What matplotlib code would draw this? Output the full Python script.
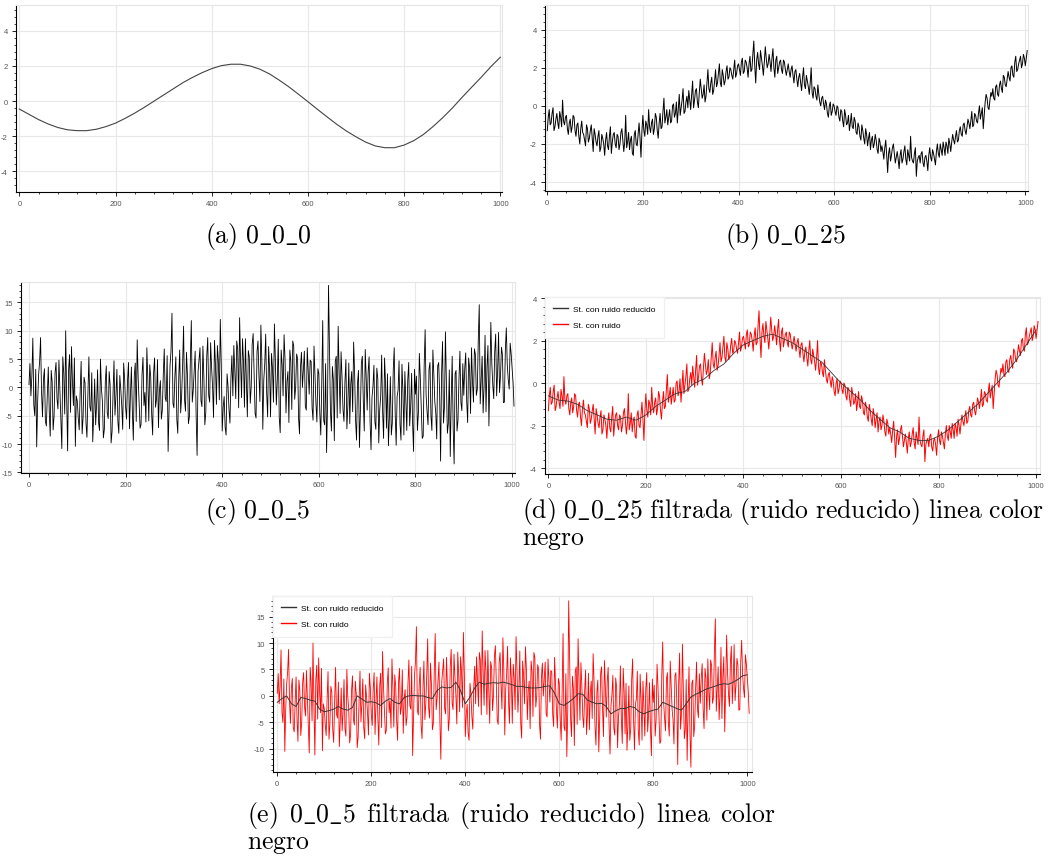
import numpy as np
import matplotlib
matplotlib.use("Agg")
import matplotlib.pyplot as plt
from matplotlib.ticker import MultipleLocator

# Tamaño de la figura en píxeles
W, H = 1050, 862

# (a) serie sin ruido, muestreada cada 20
senal_limpia = [-0.45, -0.75, -1.05, -1.3, -1.5, -1.63, -1.68, -1.68, -1.6, -1.45,
                -1.25, -0.98, -0.68, -0.35, 0.0, 0.35, 0.7, 1.05, 1.35, 1.62,
                1.85, 2.02, 2.1, 2.1, 2.0, 1.82, 1.55, 1.2, 0.82, 0.4,
                -0.03, -0.47, -0.9, -1.32, -1.7, -2.03, -2.33, -2.55, -2.65, -2.65,
                -2.5, -2.25, -1.9, -1.45, -0.95, -0.4, 0.2, 0.78, 1.35, 1.95, 2.5]

# (b) serie con ruido 0_0_25: muestras en x = 0, 4, 8, ...
ruido_025 = [
    -1.3, -0.2, -0.9, -0.1, -1.1, -0.4, -1.2, -0.6, 0.3, -1.0, -0.5, -1.5, -0.7, -1.1, -0.6, -1.6, -0.9, -2.0, -0.8, -1.5, -2.1, -1.2, -1.7, -1.0, -2.4,
    -1.5, -2.1, -1.3, -2.2, -1.7, -2.6, -1.4, -2.3, -1.1, -1.9, -1.4, -2.2, -1.6, -2.0, -1.2, -2.4, -0.5, -1.9, -2.3, -1.6, -2.6, -1.3, -2.1, -0.9, -2.7,
    -0.5, -1.6, -1.0, -0.2, -1.4, -0.7, -1.2, -0.6, -1.7, -0.4, -1.1, 0.4, -0.6, -1.0, -0.2, -0.8, 0.1, -0.4, -0.9, 0.6, -0.1, 0.9, -0.3, 0.5, 0.8,
    -0.2, 1.3, 0.3, 0.9, -0.1, 1.4, 0.4, 1.1, 0.5, 1.9, 0.7, 1.5, 0.8, 1.9, 1.2, 2.2, 1.0, 1.6, 1.3, 2.1, 1.5, 1.9, 1.4, 2.4, 1.7,
    2.2, 1.6, 2.5, 1.8, 2.3, 1.5, 2.6, 1.9, 3.4, 1.2, 2.8, 1.9, 2.5, 1.6, 3.1, 2.0, 2.7, 1.8, 3.0, 1.5, 2.6, 2.0, 2.4, 1.7, 2.3,
    1.6, 2.2, 1.5, 2.1, 1.2, 1.9, 1.0, 1.7, 0.8, 2.0, 0.9, 1.3, 0.6, 2.0, 0.4, 0.9, 0.3, 0.6, 0.0, 0.5, -0.2, 0.1, -0.6, 0.2, -0.3,
    0.0, -0.5, -0.1, -0.8, -0.3, -1.1, -0.5, -0.9, -1.3, -0.4, -1.2, -0.8, -1.5, -1.1, -1.8, -1.3, -2.0, -1.5, -1.7, -2.3, -1.6, -2.0, -1.8, -2.5, -1.9,
    -2.1, -2.8, -1.8, -3.5, -2.2, -2.6, -2.0, -3.0, -2.4, -3.3, -2.3, -2.8, -2.1, -3.1, -2.6, -1.6, -2.9, -2.5, -3.7, -2.7, -3.0, -2.4, -3.2, -2.6, -3.4,
    -2.2, -2.9, -2.5, -3.1, -2.0, -2.7, -2.3, -1.9, -2.6, -2.1, -1.7, -2.4, -1.5, -2.0, -1.3, -1.8, -1.1, -1.6, -0.9, -1.5, -0.7, -1.2, -0.3, -1.0, -0.5,
    -0.9, 0.0, -0.4, -1.2, 0.2, 0.4, -0.2, 0.7, 0.9, 0.3, 1.1, 0.5, 1.3, 0.7, 1.5, 1.0, 1.8, 1.3, 2.1, 1.5, 2.6, 1.9, 2.4, 2.0, 2.7,
    2.1, 2.9]

# (b) serie con ruido 0_0_25: muestras en x = 2, 6, 10, ...
ruido_025_med = [
    -0.6, -1.0, -0.4, -1.3, -0.7, -0.9, -0.3, -1.1, -0.8, -0.6, -1.2, -0.9, -1.4, -0.5, -1.3, -1.0, -1.6, -1.2, -1.4, -1.8, -1.0, -1.9, -1.3, -1.7, -1.2,
    -1.9, -1.6, -2.4, -1.5, -2.0, -1.8, -2.1, -1.6, -2.5, -1.5, -2.0, -1.5, -2.3, -1.4, -1.8, -1.9, -2.2, -1.4, -1.8, -2.5, -1.5, -2.0, -1.5, -1.7, -1.3,
    -1.3, -0.8, -1.5, -1.1, -0.9, -1.5, -0.4, -1.3, -0.9, -1.2, -0.3, -0.9, -0.2, -0.6, -0.9, 0.0, -0.6, 0.2, -0.2, -0.5, 0.3, -0.4, 0.2, -0.1, 0.3,
    0.6, -0.1, 0.8, 0.2, 0.7, 0.9, 0.6, 0.2, 1.2, 0.9, 1.2, 0.6, 1.3, 1.0, 1.7, 1.2, 1.9, 1.1, 1.8, 1.4, 2.0, 1.6, 1.9, 1.5, 2.1,
    1.9, 2.3, 1.7, 2.4, 2.0, 2.2, 1.8, 2.7, 2.1, 2.4, 2.2, 2.9, 2.1, 2.3, 2.5, 2.2, 2.3, 2.5, 2.0, 2.4, 1.7, 2.3, 1.9, 2.4, 1.9,
    1.9, 1.8, 1.9, 1.6, 1.8, 1.4, 1.5, 1.2, 1.5, 1.1, 1.6, 1.0, 1.2, 0.7, 1.0, 0.5, 1.1, 0.2, 0.4, 0.1, 0.3, -0.4, 0.0, -0.5, 0.1,
    -0.3, 0.0, -0.6, -0.2, -0.8, -0.2, -1.0, -0.5, -0.9, -1.1, -0.6, -1.4, -0.9, -1.6, -1.0, -1.7, -1.2, -2.1, -1.4, -1.8, -2.2, -1.5, -2.3, -1.7, -2.4,
    -2.4, -2.2, -2.6, -2.5, -2.9, -2.2, -2.5, -2.7, -2.8, -2.6, -3.0, -2.4, -2.8, -2.3, -2.9, -2.7, -3.0, -2.2, -2.9, -2.6, -2.5, -3.0, -2.7, -2.9, -2.6,
    -2.7, -2.3, -2.8, -2.4, -2.5, -2.0, -2.6, -2.2, -1.9, -2.5, -2.0, -1.9, -1.8, -1.6, -1.9, -1.3, -1.5, -1.0, -1.3, -1.1, -0.9, -0.8, -1.1, -0.4, -0.8,
    -0.4, -0.7, -0.1, -0.5, 0.6, -0.1, 0.3, 0.5, 0.4, 1.0, 0.6, 1.1, 0.9, 1.6, 1.1, 1.4, 1.5, 2.0, 1.6, 2.3, 1.8, 2.2, 2.6, 2.2, 2.5,
    2.5]

# (c) serie con ruido 0_0_5: muestras en x = 0, 4, 8, ...
ruido_05 = [
    0.5, -1.5, 8.7, -5.0, -10.5, 2.3, 8.8, -5.2, 3.3, -6.8, 3.6, -8.6, 1.0, -5.0, 4.4, -3.8, -0.5, -10.8, 2.5, 10.0, -11.2, 5.8, 7.2, -3.2, -10.4,
    -2.4, -7.5, 4.6, -5.3, 0.8, -8.8, 5.4, -4.2, -9.6, 1.5, -3.0, -6.2, 5.0, -2.5, -7.4, 3.8, -5.5, 0.4, -7.8, 4.7, -1.5, -6.0, 2.1, -3.2, 4.3,
    -3.5, 1.2, -7.3, 3.6, -9.3, 4.3, 8.4, -2.7, -6.5, 5.3, -0.9, 7.0, -5.9, 1.8, -8.4, 5.2, -2.1, -7.1, 1.2, -4.0, 6.8, -2.5, -11.3, 3.9, 13.1,
    -3.6, 5.4, -8.1, 6.6, -1.5, 10.8, -4.2, 2.2, -5.2, 11.8, -0.5, 6.4, -12.0, 4.8, -2.3, 7.3, -6.6, 5.6, -1.4, 7.9, 0.2, 8.3, -3.0, 4.6, 12.0,
    -7.7, -1.6, -8.4, 0.3, -6.3, 5.6, 7.4, -2.0, 6.8, 12.3, -1.8, 4.5, 8.6, -5.2, 5.4, 0.1, 9.5, -4.6, 6.3, 2.1, 11.0, -7.4, 4.2, -1.0, 7.2,
    -5.2, 3.4, 11.2, -3.1, 8.5, -8.0, 4.0, 9.3, -4.5, 2.8, 6.6, -3.9, 7.3, 0.0, 5.1, -8.2, 6.2, 3.3, -3.4, 7.0, -1.2, 4.6, -5.8, 2.4, -6.1,
    2.4, -8.4, 11.8, -6.6, -11.5, 18.0, -4.2, 3.7, -9.4, 5.5, 10.8, -4.6, 1.8, -6.0, 4.9, -3.2, -6.4, 2.8, 8.0, -5.8, 0.7, -10.6, 4.3, -2.4, 6.7,
    -4.0, 5.4, -11.0, 0.2, -6.1, 3.4, -9.8, -1.5, -4.3, 5.2, -7.2, -10.3, 1.9, -6.3, 7.0, -10.2, -0.5, -6.5, 4.1, -8.4, -2.1, 1.3, -6.8, 2.5, -11.3,
    -1.2, -7.6, 6.0, -3.4, -8.6, 10.2, -4.3, 3.2, -5.0, 6.6, -2.5, -9.1, 4.4, -13.0, 8.1, -3.4, 1.1, -6.4, -12.2, 5.5, -13.5, 3.0, -5.8, 6.4, -4.1,
    -1.4, 6.1, -6.2, 3.4, 7.0, -2.6, 5.8, -0.3, 14.6, 1.2, -4.5, 9.2, 3.6, -6.8, 11.5, 0.4, 6.3, -1.5, 9.7, 2.1, 5.8, -2.6, 10.5, 1.4, 7.8,
    3.5, -3.3]

# (c) serie con ruido 0_0_5: muestras en x = 2, 6, 10, ...
ruido_05_med = [
    4.2, 2.0, -3.1, 3.2, -2.4, 4.5, -0.8, 1.5, -6.0, -1.2, -4.4, 3.0, -7.5, 2.6, -2.0, 4.8, -6.2, 5.4, -4.7, -1.8, 3.1, -4.4, 0.9, 5.2, -1.5,
    -5.4, -0.6, -8.2, 1.8, -6.3, -1.2, -3.4, 2.6, -4.8, -6.6, 3.1, -7.6, -0.2, -8.9, 1.0, -4.5, 2.8, -9.8, -1.1, -4.9, 3.2, -8.1, -0.3, -7.4, 1.5,
    -5.6, 4.4, -1.4, -4.2, 2.0, -6.0, 1.7, -7.2, 2.3, -3.2, -6.1, 1.4, 4.0, -4.8, 2.6, -3.5, 4.9, -0.6, -5.6, 2.2, -1.8, 5.6, -3.3, 6.5, -2.8,
    2.0, -5.6, 1.6, -4.5, 4.0, -2.2, 6.2, -6.4, 4.7, -2.6, 3.1, -5.0, 2.8, 7.0, -3.4, 1.9, -4.4, 8.8, -2.6, 3.5, -5.3, 4.0, 7.4, -2.2, 4.1,
    -3.5, -7.0, 2.4, -3.9, 1.6, -1.5, 3.1, 8.2, -3.6, 4.5, 8.6, -3.5, 1.0, 6.5, -2.8, 7.6, 2.5, -5.4, 8.2, -2.5, 4.8, 1.3, 9.4, -5.2, 3.2,
    6.0, -2.6, 4.8, 1.2, -5.3, 6.6, -1.5, 5.0, 1.0, -6.2, 4.6, 8.2, -2.1, 5.9, -5.4, 3.6, 0.0, 6.4, -4.0, 3.0, 4.8, -3.6, 7.3, -2.9, 3.3,
    -4.5, 0.6, -5.8, 4.2, -2.8, 6.3, -7.7, 1.4, 4.6, -5.4, 2.6, 6.3, -3.9, 1.0, -7.3, 4.3, 0.6, -4.3, 2.7, -9.3, 3.0, -4.3, 5.5, -7.7, 1.8,
    2.7, -6.0, -1.8, 3.9, -7.4, 1.6, -4.0, 5.7, -9.0, 0.8, 2.4, -5.3, -8.4, 3.1, -4.5, -1.6, 4.7, -9.3, -0.7, 2.8, -7.6, 4.4, -3.5, -6.2, 3.2,
    2.0, -4.6, 1.7, -9.0, 3.8, -1.3, -6.6, 4.4, -7.6, 2.3, -4.5, 3.8, -1.0, 2.4, -6.3, 9.8, -8.1, 3.1, -2.1, -7.0, 2.4, -7.7, 1.4, -2.6, 4.2,
    3.4, -2.4, 5.2, -4.6, 1.0, 6.8, -1.4, 8.4, -2.9, 5.5, 0.3, -4.3, 7.4, 1.8, 4.3, -2.0, 9.4, 2.8, -0.9, 7.1, -2.7, 6.5, 4.0, -0.3, 6.0,
    0.8]

# (d) 0_0_25 filtrada, muestreada cada 20
filtrada_025 = [-0.6, -0.8, -0.85, -1.0, -1.3, -1.5, -1.7, -1.75, -1.6, -1.75,
                -1.5, -1.1, -0.8, -0.5, -0.4, 0.0, 0.2, 0.6, 0.9, 1.4,
                1.8, 2.0, 2.2, 2.3, 2.1, 1.9, 1.6, 1.3, 1.0, 0.5,
                0.0, -0.4, -0.8, -1.3, -1.7, -2.1, -2.3, -2.6, -2.7, -2.7,
                -2.5, -2.2, -1.8, -1.4, -1.0, -0.5, 0.0, 0.5, 1.1, 1.8, 2.5]

# (e) 0_0_5 filtrada, muestreada cada 10
filtrada_05 = [-1.2, -0.5, 0.0, -1.5, -2.0, -0.3, -0.5, -0.8, -1.0, -2.5,
               -3.0, -2.8, -2.5, -2.0, -2.5, -2.7, -2.2, 0.0, -0.6, -1.2,
               -1.1, -1.3, -1.8, -1.0, -0.5, -1.2, -1.5, -0.3, 0.0, 0.1,
               0.0, 0.0, -0.3, -0.5, 1.0, 1.7, 1.5, 1.6, 2.6, 1.0,
               -1.5, -0.2, 1.5, 2.6, 2.2, 2.4, 2.5, 2.4, 2.6, 2.4,
               2.1, 1.8, 1.8, 1.6, 1.5, 1.5, 1.6, 1.8, 1.9, 0.5,
               -1.5, -1.8, -1.2, -0.5, 0.4, 0.3, -0.8, -1.2, -1.5, -1.4,
               -2.0, -3.4, -2.8, -2.4, -2.4, -2.0, -2.2, -3.0, -3.4, -3.0,
               -2.7, -2.5, -1.2, -1.6, -2.0, -2.4, -2.7, -1.5, -0.2, 0.3,
               0.7, 1.2, 1.5, 1.8, 2.1, 2.3, 2.2, 2.6, 3.1, 3.8, 4.0]


def juntar(pares, medios):
    # intercala las muestras en x=0,4,8.. con las de x=2,6,10..
    x = np.concatenate([np.arange(len(pares)) * 4, np.arange(len(medios)) * 4 + 2])
    y = np.concatenate([pares, medios])
    orden = np.argsort(x)
    return x[orden], y[orden]


x_limpia = np.arange(len(senal_limpia)) * 20
x_r025, y_r025 = juntar(ruido_025, ruido_025_med)
x_r05, y_r05 = juntar(ruido_05, ruido_05_med)
x_filt025 = np.arange(len(filtrada_025)) * 20
x_filt05 = np.arange(len(filtrada_05)) * 10

plt.rcParams['axes.unicode_minus'] = False
plt.rcParams['mathtext.fontset'] = 'cm'
plt.rcParams['font.family'] = ['Liberation Sans', 'DejaVu Sans']

fig = plt.figure(figsize=(W / 100, H / 100), dpi=100)


def panel(left, top, right, bottom, xlim, ylim, ymaj, ymin):
    # posición en píxeles -> fracción de figura
    ax = fig.add_axes([left / W, 1 - bottom / H, (right - left) / W, (bottom - top) / H])
    ax.set_xlim(*xlim)
    ax.set_ylim(*ylim)
    ax.xaxis.set_major_locator(MultipleLocator(200))
    ax.xaxis.set_minor_locator(MultipleLocator(40))
    ax.yaxis.set_major_locator(MultipleLocator(ymaj))
    ax.yaxis.set_minor_locator(MultipleLocator(ymin))
    ax.grid(True, which='major', color='#e8e8e8', lw=0.8)
    ax.set_axisbelow(True)
    for s in ['top', 'right']:
        ax.spines[s].set_color('#e5e5e5')
        ax.spines[s].set_linewidth(0.8)
    for s in ['left', 'bottom']:
        ax.spines[s].set_color('black')
        ax.spines[s].set_linewidth(0.8)
    ax.tick_params(which='major', length=3, width=0.6, direction='out',
                   labelsize=5.5, labelcolor='#555555', pad=3)
    ax.tick_params(which='minor', length=1.6, width=0.5, direction='out')
    return ax


def leyenda(ax):
    leg = ax.legend(loc='upper left', fontsize=6, frameon=True, fancybox=False,
                    framealpha=1, edgecolor='#f0f0f0', borderaxespad=0,
                    borderpad=1.0, labelspacing=1.0, handlelength=1.8, handletextpad=0.6)
    for h in leg.get_lines():
        h.set_linewidth(1.0)


def caption(x, y, s, ha='center', espacio=r'\ '):
    # texto de pie de figura con aspecto LaTeX (Computer Modern)
    t = r'$\mathrm{' + s.replace(' ', espacio).replace('_', r'\_') + '}$'
    fig.text(x / W, 1 - y / H, t, ha=ha, va='baseline', fontsize=18.5, color='black')


# (a)
ax = panel(16, 6, 502, 193, (-6.9, 1003.5), (-5.17, 5.47), 2, 0.4)
ax.plot(x_limpia, senal_limpia, color='#444444', lw=0.8)

# (b)
ax = panel(545, 6, 1028, 192, (-4.8, 1005.6), (-4.47, 5.29), 2, 0.4)
ax.plot(x_r025, y_r025, color='black', lw=0.7)

# (c)
ax = panel(21, 283, 515, 474, (-16.5, 1006), (-15.1, 18.6), 5, 1)
ax.plot(x_r05, y_r05, color='black', lw=0.6)

# (d)
ax = panel(545, 298, 1040, 475, (-6.8, 1008), (-4.28, 4.05), 2, 0.4)
ax.plot(x_filt025, filtrada_025, color='#333333', lw=0.6, zorder=3, label='St. con ruido reducido')
ax.plot(x_r025, y_r025, color='red', lw=0.7, zorder=2, label='St. con ruido')
leyenda(ax)

# (e)
ax = panel(273, 597, 752, 773, (-9.1, 1010), (-14.4, 18.9), 5, 1)
ax.plot(x_filt05, filtrada_05, color='#333333', lw=0.7, zorder=3, label='St. con ruido reducido')
ax.plot(x_r05, y_r05, color='red', lw=0.6, zorder=2, label='St. con ruido')
leyenda(ax)

caption(258, 243, '(a) 0_0_0')
caption(785, 243, '(b) 0_0_25')
caption(258, 518, '(c) 0_0_5')
caption(522, 518, '(d) 0_0_25 filtrada (ruido reducido) linea color', ha='left')
caption(522, 545, 'negro', ha='left')
caption(247, 822, '(e) 0_0_5 filtrada (ruido reducido) linea color', ha='left', espacio=r'\ \,')
caption(247, 849, 'negro', ha='left')

plt.savefig('out.png', dpi=100)
